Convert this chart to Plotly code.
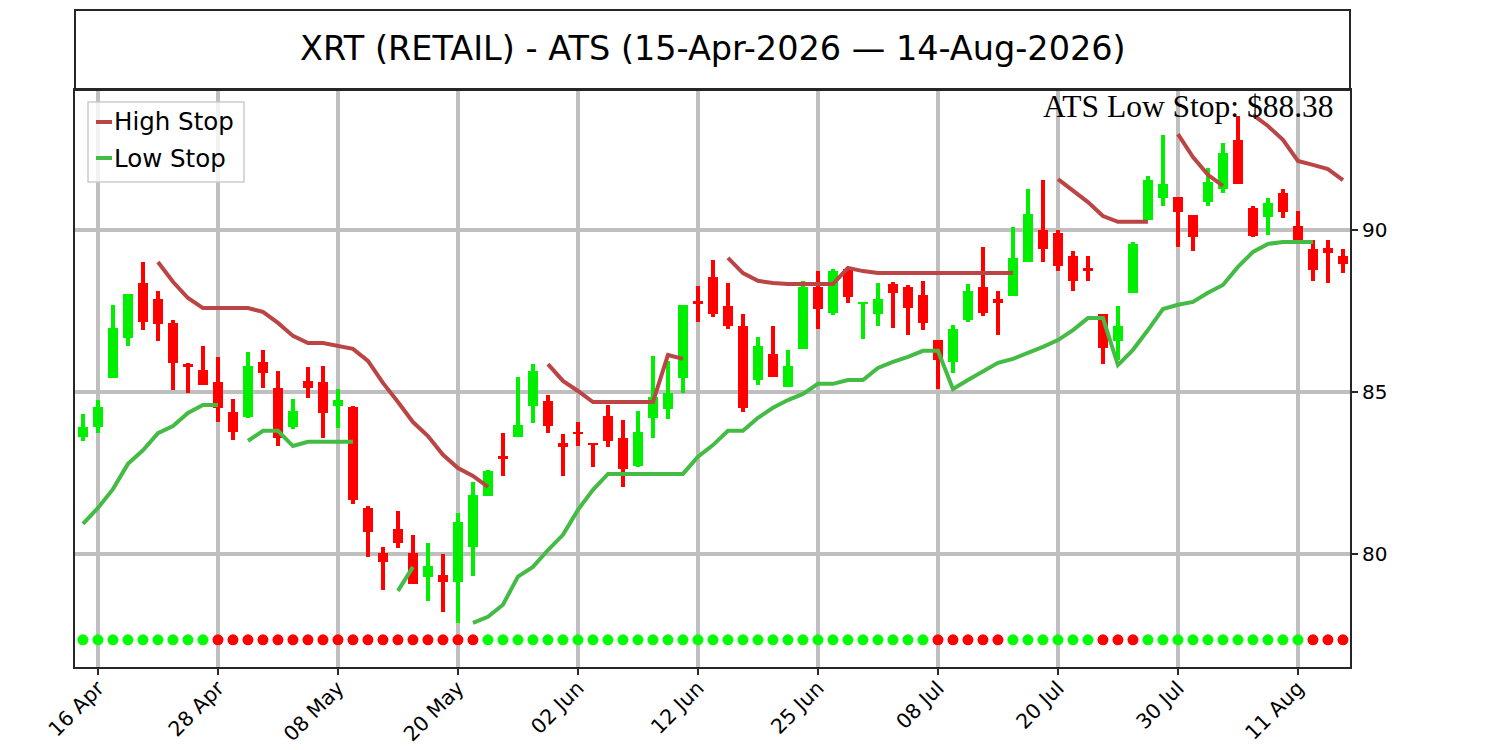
import pandas as pd
import plotly.graph_objects as go

# Trading days (US calendar) covered by the chart
dates = pd.bdate_range("2026-04-15", "2026-08-14", freq="C",
                       holidays=["2026-05-25", "2026-06-19", "2026-07-03"])
pos = list(range(len(dates)))

# Daily candles
opens = [83.61, 83.92, 85.43, 86.67, 88.36, 87.87, 87.13, 85.86, 85.68, 85.31,
         84.38, 84.23, 85.93, 85.12, 83.92, 85.34, 85.31, 84.57, 84.54, 81.42,
         80.03, 80.77, 80.03, 79.29, 79.35, 79.14, 80.22, 81.79, 83.02, 83.61,
         84.57, 84.72, 83.43, 83.77, 83.43, 84.26, 83.58, 82.72, 84.20, 84.48,
         85.43, 87.81, 88.55, 87.65, 87.04, 85.37, 86.17, 85.15, 86.33, 88.24,
         87.44, 88.80, 87.72, 87.41, 88.33, 88.24, 87.99, 86.60, 85.93, 87.22,
         88.24, 87.87, 87.96, 89.01, 90.00, 89.91, 89.20, 88.83, 87.41, 86.57,
         88.06, 90.31, 91.00, 91.02, 90.46, 90.86, 91.27, 92.78, 90.68, 90.40,
         91.14, 90.12, 89.41, 89.44, 89.20]
highs = [84.32, 84.75, 87.69, 88.02, 89.01, 88.12, 87.22, 85.90, 86.42, 86.08,
         84.78, 86.23, 86.30, 85.65, 84.78, 85.77, 85.80, 85.09, 84.57, 81.48,
         80.22, 81.33, 80.59, 80.34, 80.00, 81.27, 82.22, 82.59, 83.73, 85.46,
         85.86, 84.91, 83.70, 84.07, 83.43, 84.60, 84.14, 84.41, 86.11, 85.96,
         87.69, 88.27, 89.07, 88.36, 87.41, 86.70, 87.04, 86.30, 88.43, 88.73,
         88.80, 88.83, 87.78, 88.36, 88.40, 88.30, 88.43, 86.60, 87.07, 88.33,
         89.48, 88.12, 90.09, 91.27, 91.54, 90.00, 89.35, 89.20, 87.41, 87.65,
         89.63, 91.67, 92.93, 91.02, 90.46, 91.91, 92.69, 93.52, 90.74, 90.99,
         91.27, 90.59, 89.69, 89.69, 89.41]
lows = [83.49, 83.73, 85.43, 86.42, 86.91, 86.57, 85.06, 84.97, 85.22, 84.07,
        83.52, 84.20, 85.12, 83.33, 83.86, 84.81, 83.58, 83.89, 81.54, 79.91,
        78.89, 80.19, 79.07, 78.55, 78.21, 77.87, 79.32, 81.79, 82.41, 83.61,
        84.04, 83.73, 82.41, 83.33, 82.69, 83.30, 82.07, 82.69, 83.58, 84.17,
        84.97, 87.16, 87.31, 86.94, 84.38, 85.22, 85.46, 85.15, 86.33, 86.94,
        87.38, 87.75, 86.64, 87.04, 86.98, 86.76, 86.91, 85.09, 85.59, 87.16,
        87.35, 86.76, 87.96, 89.01, 89.01, 88.73, 88.12, 88.43, 85.86, 85.99,
        88.06, 90.31, 90.74, 89.48, 89.35, 90.74, 91.14, 91.42, 89.78, 89.85,
        90.37, 89.63, 88.43, 88.36, 88.67]
closes = [83.92, 84.54, 86.98, 88.02, 87.16, 87.10, 85.90, 85.77, 85.22, 84.51,
          83.77, 85.80, 85.59, 83.58, 84.41, 85.12, 84.35, 84.75, 81.67, 80.68,
          79.75, 80.34, 79.07, 79.63, 79.14, 80.99, 81.82, 82.56, 82.96, 83.98,
          85.65, 83.95, 83.30, 83.70, 83.36, 83.49, 82.62, 83.77, 84.85, 84.97,
          87.69, 87.72, 87.41, 87.04, 84.51, 86.42, 85.46, 85.80, 88.24, 87.56,
          88.73, 87.93, 87.78, 87.87, 88.06, 87.59, 87.13, 85.99, 86.94, 88.12,
          87.44, 87.75, 89.14, 90.49, 89.41, 88.89, 88.43, 88.73, 86.36, 87.04,
          89.57, 91.54, 91.42, 90.56, 89.78, 91.48, 92.38, 91.42, 89.81, 90.83,
          90.56, 89.66, 88.77, 89.29, 88.95]

N = None
high_stop = [N, N, N, N, N, 89.01, 88.40, 87.90, 87.59, 87.59,
             87.59, 87.59, 87.47, 87.13, 86.73, 86.51, 86.51, 86.42, 86.33, 85.96,
             85.28, 84.69, 84.07, 83.64, 83.06, 82.65, 82.41, 82.07, N, N,
             N, 85.86, 85.34, 85.03, 84.69, 84.69, 84.69, 84.69, 84.69, 86.14,
             86.02, N, N, 89.14, 88.67, 88.43, 88.36, 88.33, 88.33, 88.33,
             88.33, 88.83, 88.73, 88.67, 88.67, 88.67, 88.67, 88.67, 88.67, 88.67,
             88.67, 88.67, 88.67, N, N, 91.57, 91.20, 90.86, 90.43, 90.25,
             90.25, 90.25, N, 92.96, 92.25, 91.70, 91.36, N, 93.55, 93.21,
             92.78, 92.13, 92.01, 91.88, 91.54]
low_stop = [80.93, 81.42, 82.00, 82.78, 83.20, 83.73, 83.95, 84.35, 84.60, 84.60,
            N, 83.49, 83.80, 83.80, 83.33, 83.46, 83.46, 83.46, 83.46, N,
            N, 78.86, 79.60, N, N, N, 77.87, 78.06, 78.43, 79.30,
            79.60, 80.12, 80.59, 81.36, 81.98, 82.47, 82.47, 82.47, 82.47, 82.47,
            82.47, 83.00, 83.36, 83.80, 83.80, 84.20, 84.51, 84.75, 84.94, 85.25,
            85.25, 85.37, 85.37, 85.74, 85.93, 86.08, 86.27, 86.27, 85.09, 85.37,
            85.62, 85.90, 86.02, 86.20, 86.39, 86.60, 86.91, 87.28, 87.28, 85.83,
            86.30, 86.91, 87.56, 87.69, 87.78, 88.06, 88.30, 88.86, 89.32, 89.57,
            89.63, 89.63, 89.63, N, N]

# ATS trend state per day (G = long, R = short)
trend = ("GGGGGGGGG" "RRRRRRRRRRRRRRRRRR" "GGGGGGGGGGGGGGGGGGGGGGGGGGGGGG"
         "RRRRR" "GGGGGG" "RRR" "GGGGGGGGGGG" "RRR")
signal_level = 77.35

tick_idx = pos[1::8]
tick_text = [dates[i].strftime("%d %b") for i in tick_idx]

GREEN = "#00ee00"
RED = "#ff0000"
HIGH_COL = "#bb4444"
LOW_COL = "#44bb44"
FONT = "DejaVu Sans"

# plot area on the page (pixels); the page body adds an 8px offset
PL, PR, PT, PB = 75, 1350, 90, 667


def px(x, y):
    return (x - PL) / (PR - PL), (PB - y) / (PB - PT)


candle_col = [GREEN if c > o else RED for o, c in zip(opens, closes)]
body_base = [min(o, c) for o, c in zip(opens, closes)]
body_h = [max(abs(c - o), 0.04) for o, c in zip(opens, closes)]
wick_h = [h - l for h, l in zip(highs, lows)]

fig = go.Figure()
fig.add_trace(go.Bar(x=pos, y=wick_h, base=lows, width=0.25,
                     marker=dict(color=candle_col, line_width=0), showlegend=False))
fig.add_trace(go.Bar(x=pos, y=body_h, base=body_base, width=0.68,
                     marker=dict(color=candle_col, line_width=0), showlegend=False))
fig.add_trace(go.Scatter(x=pos, y=high_stop, mode="lines", name="High Stop",
                         line=dict(color=HIGH_COL, width=4)))
fig.add_trace(go.Scatter(x=pos, y=low_stop, mode="lines", name="Low Stop",
                         line=dict(color=LOW_COL, width=4)))
fig.add_trace(go.Scatter(x=pos, y=[signal_level] * len(pos), mode="markers",
                         marker=dict(size=11, color=["#00ff00" if t == "G" else RED for t in trend]),
                         showlegend=False))

axis_style = dict(showgrid=True, gridcolor="#bfbfbf", gridwidth=4, zeroline=False,
                  showline=True, linecolor="#262626", linewidth=2, mirror=True,
                  ticks="outside", ticklen=6, tickwidth=2, tickcolor="#262626",
                  automargin=False)

fig.update_layout(
    width=1500, height=750,
    margin=dict(l=PL - 8, r=1500 - PR + 8, t=PT - 8, b=750 - PB + 8),
    paper_bgcolor="white", plot_bgcolor="white",
    barmode="overlay", bargap=0,
    font=dict(family=FONT, color="black"),
    xaxis=dict(range=[-0.53, 84.47], tickmode="array", tickvals=tick_idx,
               ticktext=tick_text, tickangle=-45, ticklabelstandoff=-7,
               tickfont=dict(family=FONT, size=20.5, color="black"), **axis_style),
    yaxis=dict(range=[76.51, 94.32], side="right", tickmode="array",
               tickvals=[80, 85, 90],
               tickfont=dict(family=FONT, size=20, color="black"), **axis_style),
    showlegend=False,
)

# title box above the plot
x0, y1 = px(PL, 10)
fig.add_shape(type="rect", xref="paper", yref="paper", x0=0, x1=1, y0=1, y1=y1,
              line=dict(color="#262626", width=2), fillcolor="rgba(0,0,0,0)")
tx, ty = px(712.5, 49)
fig.add_annotation(text="XRT (RETAIL) - ATS (15-Apr-2026 — 14-Aug-2026)",
                   xref="paper", yref="paper", x=tx, y=ty, showarrow=False,
                   xanchor="center", yanchor="middle",
                   font=dict(family=FONT, size=33.5, color="black"))
ax_, ay_ = px(1336, 107)
fig.add_annotation(text="ATS Low Stop: $88.38", xref="paper", yref="paper",
                   x=ax_, y=ay_, showarrow=False, xanchor="right", yanchor="middle",
                   font=dict(family="Liberation Serif", size=31.5, color="black"))

# legend box
lx0, ly0 = px(88, 182)
lx1, ly1 = px(244, 102)
fig.add_shape(type="rect", xref="paper", yref="paper", x0=lx0, x1=lx1, y0=ly0, y1=ly1,
              line=dict(color="#cccccc", width=1.5), fillcolor="rgba(255,255,255,0.8)")
for name, col, ypix in [("High Stop", HIGH_COL, 122), ("Low Stop", LOW_COL, 158)]:
    sx0, sy = px(96, ypix)
    sx1, _ = px(112, ypix)
    fig.add_shape(type="line", xref="paper", yref="paper", x0=sx0, x1=sx1, y0=sy, y1=sy,
                  line=dict(color=col, width=4))
    fx, _ = px(112, ypix)
    fig.add_annotation(text=name, xref="paper", yref="paper", x=fx, y=sy, showarrow=False,
                       xanchor="left", yanchor="middle",
                       font=dict(family=FONT, size=24.5, color="black"))

fig.write_html("out.html")
